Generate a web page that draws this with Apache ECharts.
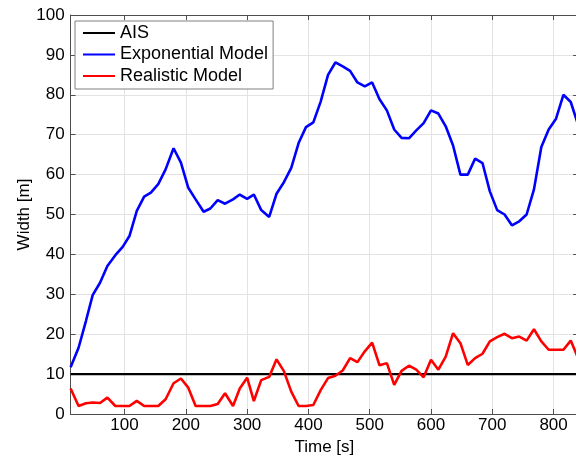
<!DOCTYPE html>
<html>
<head>
<meta charset="utf-8">
<script src="https://cdn.jsdelivr.net/npm/echarts@6/dist/echarts.min.js"></script>
<style>
html,body{margin:0;padding:0;background:#fff;}
#chart{width:576px;height:459px;}
</style>
</head>
<body>
<div id="chart"></div>
<script>
// Time samples [s]
var times = [12,25,37,48,60,72,85,97,108,120,132,143,155,167,180,192,204,216,229,240,
  252,264,277,288,300,311,323,336,348,360,372,384,396,408,420,432,444,456,468,480,
  492,504,516,528,540,552,564,576,588,600,612,624,636,648,660,672,684,696,708,720,
  732,744,756,768,780,792,804,816,828,840];
// Exponential Model width [m]
var exponential = [11.7,16.6,23.3,29.8,32.9,37.1,39.8,41.9,44.6,50.9,54.5,55.5,57.6,61.3,66.6,63,56.7,53.8,50.7,51.5,
  53.6,52.7,53.8,55,53.9,55,51.1,49.4,55.2,58.1,61.7,67.9,71.9,73.1,78.3,85,88.1,87.1,86,83.1,
  82.1,83.1,78.9,76.1,71.3,69.2,69.1,71.1,72.9,76.1,75.3,72.1,67.3,60,60,64,62.9,55.8,51.1,50,
  47.3,48.3,50,56.3,66.9,71.3,74,80,78.2,72.5];
// Realistic Model width [m]
var realistic = [6.4,2.0,2.7,2.9,2.75,4.1,2.0,2.0,2.0,3.3,2.0,2.0,2.0,3.7,7.7,8.9,6.6,2.0,2.0,2.0,
  2.5,5.2,2.0,6.4,9.1,3.25,8.5,9.3,13.7,10.75,5.6,2.0,2.0,2.25,6,9,9.6,10.9,14,13,
  15.7,17.9,12.2,12.75,7.3,10.8,12.1,11.1,9.2,13.6,11.1,14.4,20.25,17.75,12.3,14,15.1,18.2,19.25,20.1,
  19,19.4,18.4,21.25,18.2,16.1,16.1,16.1,18.4,14];
// AIS width [m]
var aisWidth = 10;
var seriesNames = ['AIS','Exponential Model','Realistic Model'];
var xTicks = [100,200,300,400,500,600,700,800];
var yTicks = [0,10,20,30,40,50,60,70,80,90,100];

function pairs(vals){ return times.map(function(t,i){ return [t, vals[i]]; }); }
var aisData = [[times[0], aisWidth],[times[times.length-1], aisWidth]];

var FONT = '"Liberation Sans", Arial, Helvetica, sans-serif';
var axisColor = '#4d4d4d';
var chart = echarts.init(document.getElementById('chart'), null, {renderer:'canvas'});
var xMin = 12, xMax = 840;
var option = {
  animation:false,
  backgroundColor:'#fff',
  textStyle:{fontFamily:FONT},
  grid:{left:70.6, top:15, width:507.5, height:399, containLabel:false, outerBoundsMode:'none'},
  legend:{
    orient:'vertical', left:75, top:21,
    padding:[2,5,3,8], itemGap:1.5, itemWidth:32, itemHeight:14,
    backgroundColor:'#fff', borderColor:'#808080', borderWidth:1,
    textStyle:{fontFamily:FONT, fontSize:18, color:'#000', lineHeight:20},
    data:seriesNames.map(function(n){return {name:n, icon:'path://M0,0L32,0L32,2L0,2Z'};})
  },
  xAxis:[{
    type:'value', min:xMin, max:xMax, minInterval:100, maxInterval:100, splitNumber:8,
    name:'Time [s]', nameLocation:'middle', nameGap:25, nameMoveOverlap:false,
    nameTextStyle:{fontFamily:FONT, fontSize:17, color:'#000'},
    axisLine:{show:true, onZero:false, lineStyle:{color:axisColor, width:1}},
    axisTick:{show:true, inside:true, length:5, lineStyle:{color:axisColor}},
    axisLabel:{fontFamily:FONT, fontSize:17, color:'#000', margin:3, showMinLabel:false, showMaxLabel:false,
      formatter:function(v){ return xTicks.indexOf(v) >= 0 ? String(v) : ''; }},
    splitLine:{show:true, lineStyle:{color:'#e3e3e3', width:1}}
  },{
    type:'value', position:'top', min:xMin, max:xMax, minInterval:100, maxInterval:100, splitNumber:8,
    axisLine:{show:true, onZero:false, lineStyle:{color:axisColor, width:1}},
    axisTick:{show:true, inside:true, length:5, lineStyle:{color:axisColor}},
    axisLabel:{show:false}, splitLine:{show:false}
  }],
  yAxis:[{
    type:'value', min:0, max:100, interval:10,
    name:'Width [m]', nameLocation:'middle', nameGap:38, nameMoveOverlap:false,
    nameTextStyle:{fontFamily:FONT, fontSize:17, color:'#000'},
    axisLine:{show:true, onZero:false, lineStyle:{color:axisColor, width:1}},
    axisTick:{show:true, inside:true, length:5, lineStyle:{color:axisColor}},
    axisLabel:{fontFamily:FONT, fontSize:17, color:'#000', margin:6,
      formatter:function(v){ return yTicks.indexOf(v) >= 0 ? String(v) : ''; }},
    splitLine:{show:true, lineStyle:{color:'#e3e3e3', width:1}}
  },{
    type:'value', position:'right', min:0, max:100, interval:10,
    axisLine:{show:true, onZero:false, lineStyle:{color:axisColor, width:1}},
    axisTick:{show:true, inside:true, length:5, lineStyle:{color:axisColor}},
    axisLabel:{show:false}, splitLine:{show:false}
  }],
  series:[
    {name:'AIS', type:'line', data:aisData, showSymbol:false, symbol:'none',
     color:'#000', lineStyle:{color:'#000', width:2.3}, z:2},
    {name:'Exponential Model', type:'line', data:pairs(exponential), showSymbol:false, symbol:'none',
     color:'#0000ff', lineStyle:{color:'#0000ff', width:2.6}, z:3},
    {name:'Realistic Model', type:'line', data:pairs(realistic), showSymbol:false, symbol:'none',
     color:'#ff0000', lineStyle:{color:'#ff0000', width:2.6}, z:4}
  ]
};
chart.setOption(option);
</script>
</body>
</html>
